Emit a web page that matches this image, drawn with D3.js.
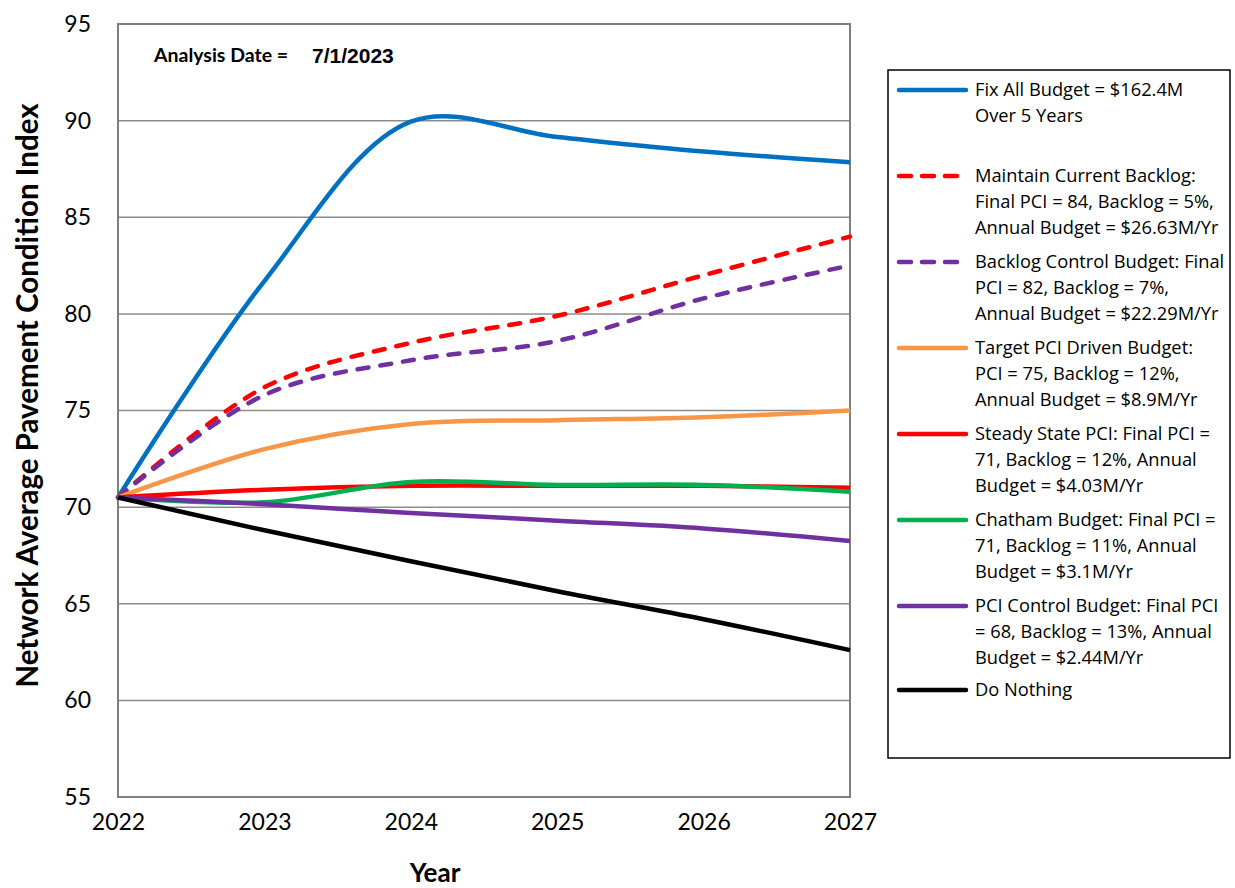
<!DOCTYPE html>
<html>
<head>
<meta charset="utf-8">
<script src="https://cdn.jsdelivr.net/npm/d3@7"></script>
<style>
  html, body { margin: 0; padding: 0; background: #fff; }
  svg { display: block; }
</style>
</head>
<body>
<svg id="chart" width="1235" height="888"></svg>
<script>
// PCI projections by budget scenario, 2022–2027
const years = [2022, 2023, 2024, 2025, 2026, 2027];
const fixAll          = [70.5, 81.7, 89.95, 89.15, 88.4, 87.85];
const maintainBacklog = [70.5, 76.2, 78.5, 79.9, 82.0, 84.0];
const backlogControl  = [70.5, 75.8, 77.6, 78.6, 80.8, 82.5];
const targetPci       = [70.5, 73.0, 74.3, 74.5, 74.65, 75.0];
const steadyState     = [70.5, 70.9, 71.1, 71.1, 71.1, 71.0];
const chatham         = [70.5, 70.25, 71.3, 71.15, 71.15, 70.8];
const pciControl      = [70.5, 70.15, 69.7, 69.3, 68.9, 68.25];
const doNothing       = [70.5, 68.8, 67.2, 65.65, 64.2, 62.6];

const yTicks = [55, 60, 65, 70, 75, 80, 85, 90, 95];

const seriesNames = [
  ["Fix All Budget = $162.4M", "Over 5 Years"],
  ["Maintain Current Backlog:", "Final PCI = 84, Backlog = 5%,", "Annual Budget = $26.63M/Yr"],
  ["Backlog Control Budget: Final", "PCI = 82, Backlog = 7%,", "Annual Budget = $22.29M/Yr"],
  ["Target PCI Driven Budget:", "PCI = 75, Backlog = 12%,", "Annual Budget = $8.9M/Yr"],
  ["Steady State PCI: Final PCI =", "71, Backlog = 12%, Annual", "Budget = $4.03M/Yr"],
  ["Chatham Budget: Final PCI =", "71, Backlog = 11%, Annual", "Budget = $3.1M/Yr"],
  ["PCI Control Budget: Final PCI", "= 68, Backlog = 13%, Annual", "Budget = $2.44M/Yr"],
  ["Do Nothing"]
];
const seriesValues = [fixAll, maintainBacklog, backlogControl, targetPci, steadyState, chatham, pciControl, doNothing];
const seriesColors = ["#0070C0", "#FF0000", "#7030A0", "#F79646", "#FF0000", "#00B050", "#7030A0", "#000000"];
const seriesDashed = [false, true, true, false, false, false, false, false];

const svg = d3.select("#chart");
const plot = { left: 118, right: 850, top: 24, bottom: 797 };

const x = d3.scaleLinear().domain([2022, 2027]).range([plot.left, plot.right]);
const y = d3.scaleLinear().domain([55, 95]).range([plot.bottom, plot.top]);

const tickFont = "Lato, 'Open Sans', sans-serif";
const legendFont = "'Open Sans', Lato, sans-serif";

// horizontal gridlines
svg.append("g")
  .selectAll("line")
  .data(yTicks)
  .join("line")
  .attr("x1", plot.left).attr("x2", plot.right)
  .attr("y1", d => y(d)).attr("y2", d => y(d))
  .attr("stroke", "#8C8C8C")
  .attr("stroke-width", 1.5);

// plot frame
svg.append("rect")
  .attr("x", plot.left).attr("y", plot.top)
  .attr("width", plot.right - plot.left).attr("height", plot.bottom - plot.top)
  .attr("fill", "none")
  .attr("stroke", "#7F7F7F")
  .attr("stroke-width", 2);

// y axis labels
const yAxis = d3.axisLeft(y).tickValues(yTicks).tickSize(0).tickPadding(27);
const gy = svg.append("g").attr("transform", `translate(${plot.left},0)`).call(yAxis);
gy.select(".domain").remove();
gy.selectAll("text").attr("font-family", tickFont).attr("font-size", 23).attr("fill", "#000");

// x axis labels
const xAxis = d3.axisBottom(x).tickValues(years).tickFormat(d3.format("d")).tickSize(0).tickPadding(17);
const gx = svg.append("g").attr("transform", `translate(0,${plot.bottom})`).call(xAxis);
gx.select(".domain").remove();
gx.selectAll("text").attr("font-family", tickFont).attr("font-size", 23).attr("fill", "#000");

// axis titles
svg.append("text")
  .attr("transform", `translate(38,${(103 + 688) / 2}) rotate(-90)`)
  .attr("text-anchor", "middle")
  .attr("font-family", tickFont).attr("font-weight", "bold").attr("font-size", 29.5)
  .text("Network Average Pavement Condition Index");

svg.append("text")
  .attr("x", 435).attr("y", 882)
  .attr("text-anchor", "middle")
  .attr("font-family", tickFont).attr("font-weight", "bold").attr("font-size", 26)
  .text("Year");

// analysis date note
svg.append("text")
  .attr("x", 154).attr("y", 62)
  .attr("font-family", tickFont).attr("font-weight", "bold").attr("font-size", 19.5)
  .text("Analysis Date =");
svg.append("text")
  .attr("x", 312).attr("y", 63)
  .attr("font-family", "'Liberation Sans', Arial, sans-serif").attr("font-weight", "bold").attr("font-size", 21)
  .text("7/1/2023");

// scenario lines (smoothed)
const line = d3.line()
  .x((d, i) => x(years[i]))
  .y(d => y(d))
  .curve(d3.curveCatmullRom.alpha(0.5));

svg.append("g")
  .selectAll("path")
  .data(seriesValues)
  .join("path")
  .attr("d", d => line(d))
  .attr("fill", "none")
  .attr("stroke", (d, i) => seriesColors[i])
  .attr("stroke-width", 4.5)
  .attr("stroke-linecap", (d, i) => seriesDashed[i] ? "round" : "butt")
  .attr("stroke-dasharray", (d, i) => seriesDashed[i] ? "11,12" : null);

// legend
const legend = svg.append("g");
legend.append("rect")
  .attr("x", 888).attr("y", 70)
  .attr("width", 342).attr("height", 688)
  .attr("fill", "#fff")
  .attr("stroke", "#000")
  .attr("stroke-width", 1.5);

const legendTop = [90, 176, 262, 348, 434, 520, 606, 690];
const lineGap = 25.6;

seriesNames.forEach((lines, i) => {
  const cy = legendTop[i];
  legend.append("line")
    .attr("x1", 899).attr("x2", 966)
    .attr("y1", cy).attr("y2", cy)
    .attr("stroke", seriesColors[i])
    .attr("stroke-width", 4.5)
    .attr("stroke-linecap", "round")
    .attr("stroke-dasharray", seriesDashed[i] ? "12,11" : null);
  lines.forEach((t, k) => {
    legend.append("text")
      .attr("x", 975)
      .attr("y", cy + k * lineGap)
      .attr("dy", "0.35em")
      .attr("font-family", legendFont)
      .attr("font-size", 18.3)
      .attr("fill", "#000")
      .text(t);
  });
});
</script>
</body>
</html>
